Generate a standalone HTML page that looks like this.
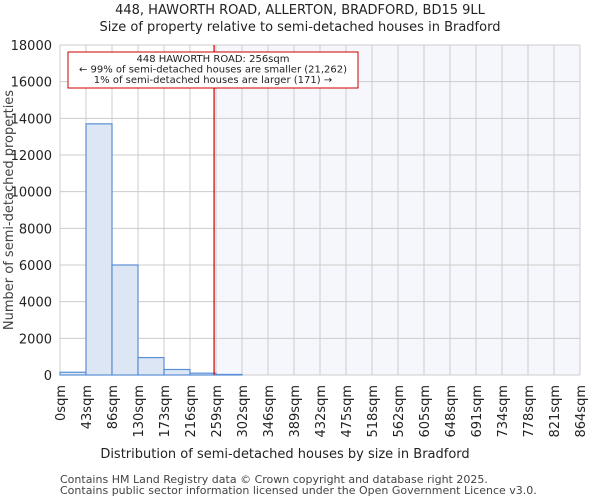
<!DOCTYPE html>
<html><head><meta charset="utf-8"><style>
body{margin:0;background:#fff;font-family:"DejaVu Sans","Liberation Sans",sans-serif}
svg text{font-family:"DejaVu Sans","Liberation Sans",sans-serif}
</style></head><body>
<svg id="c" width="600" height="500">
<text x="300" y="14" text-anchor="middle" font-size="13" fill="#222">448, HAWORTH ROAD, ALLERTON, BRADFORD, BD15 9LL</text>
<text x="300" y="31" text-anchor="middle" font-size="13" fill="#222">Size of property relative to semi-detached houses in Bradford</text>
<g id="plot"></g>
<text x="285" y="458" text-anchor="middle" font-size="13" fill="#222">Distribution of semi-detached houses by size in Bradford</text>
<text transform="translate(13,210) rotate(-90)" text-anchor="middle" font-size="13" fill="#444">Number of semi-detached properties</text>
<text x="60" y="483" font-size="11" fill="#444">Contains HM Land Registry data © Crown copyright and database right 2025.</text>
<text x="60" y="494" font-size="11" fill="#444">Contains public sector information licensed under the Open Government Licence v3.0.</text>
</svg>
<script>
const binEdges=[0,43,86,130,173,216,259,302,346,389,432,475,518,562,605,648,691,734,778,821,864];
const counts=[150,13700,6000,950,300,100,30,0,0,0,0,0,0,0,0,0,0,0,0,0];
const yTicks=[0,2000,4000,6000,8000,10000,12000,14000,16000,18000];
const propertySize=256;
const binWidth=43.2;
const L=60,R=580,T=45,B=375,ymax=18000;
const xs=v=>L+v/(binWidth*20)*(R-L);
const ys=v=>B-v/ymax*(B-T);
const ns="http://www.w3.org/2000/svg";
const g=document.getElementById('plot');
function mk(t,a){const e=document.createElementNS(ns,t);for(const k in a)e.setAttribute(k,a[k]);g.appendChild(e);return e;}
let e=mk('rect',{x:xs(propertySize),y:T,width:R-xs(propertySize),height:B-T,fill:'#f5f7fd'});


yTicks.forEach(v=>{let l=mk('line',{x1:L,x2:R,y1:ys(v),y2:ys(v),stroke:'#ccc','stroke-width':1});


let t=mk('text',{x:L-8,y:ys(v)+5,'text-anchor':'end','font-size':13,fill:'#222'});t.textContent=v;

});
binEdges.forEach((v,i)=>{const x=L+i*(R-L)/20;let l=mk('line',{x1:x,x2:x,y1:T,y2:B,stroke:'#ccc','stroke-width':1});


let t=mk('text',{transform:`translate(${x+5},${B+10}) rotate(-90)`,'text-anchor':'end','font-size':13,fill:'#222'});t.textContent=v+'sqm';

});
counts.forEach((c,i)=>{if(c<=0)return;const x0=L+i*(R-L)/20,x1=L+(i+1)*(R-L)/20;
let r=mk('rect',{x:x0,y:ys(c),width:x1-x0,height:B-ys(c),fill:'#dce6f4',stroke:'#5a8fd6','stroke-width':1.2});

});
let m=mk('line',{x1:xs(propertySize),x2:xs(propertySize),y1:T,y2:B,stroke:'#cc0000','stroke-width':1.2});


let bx=mk('rect',{x:68,y:52,width:290,height:36,fill:'#fff',stroke:'#cc0000','stroke-width':1});


['448 HAWORTH ROAD: 256sqm','← 99% of semi-detached houses are smaller (21,262)','1% of semi-detached houses are larger (171) →'].forEach((s,i)=>{
let t=mk('text',{x:213,y:62+i*10.5,'text-anchor':'middle','font-size':10,fill:'#222'});t.textContent=s;

});
</script>
</body></html>
